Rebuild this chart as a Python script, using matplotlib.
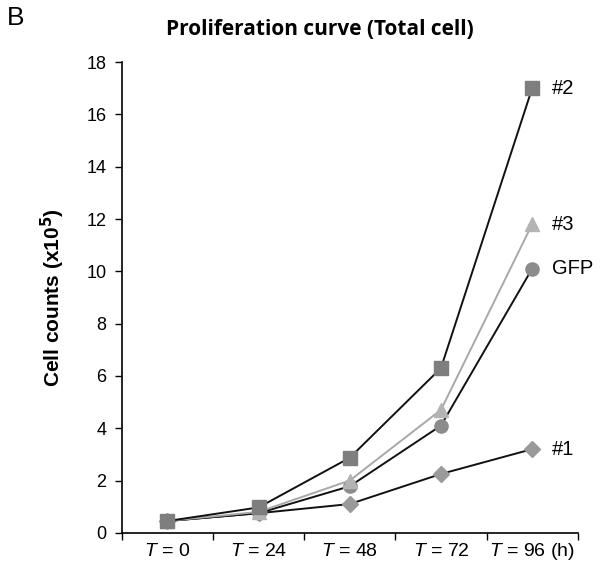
import matplotlib
matplotlib.use('Agg')
from matplotlib import pyplot as plt

times = ['$T$ = 0', '$T$ = 24', '$T$ = 48', '$T$ = 72', '$T$ = 96 (h)']
counts_1 = [0.45, 0.75, 1.10, 2.25, 3.20]
counts_gfp = [0.45, 0.75, 1.78, 4.10, 10.10]
counts_3 = [0.45, 0.80, 2.00, 4.70, 11.80]
counts_2 = [0.45, 0.97, 2.87, 6.30, 17.00]
names = ['#1', 'GFP', '#3', '#2']

plt.rcParams['font.family'] = ['Liberation Sans', 'DejaVu Sans']
plt.rcParams['mathtext.fontset'] = 'custom'
plt.rcParams['mathtext.it'] = 'Liberation Sans:italic'
plt.rcParams['mathtext.rm'] = 'Liberation Sans'

fig = plt.figure(figsize=(6.12, 5.76), dpi=100)
ax = fig.add_axes([0.199, 0.075, 0.745, 0.817])

x = range(len(times))
series = [
    (counts_1, 'D', 8.5, '#9a9a9a', '#111111'),
    (counts_gfp, 'o', 9.5, '#8c8c8c', '#111111'),
    (counts_3, '^', 10, '#b4b4b4', '#a8a8a8'),
    (counts_2, 's', 10.5, '#7e7e7e', '#111111'),
]
for (vals, mk, ms, fc, lc), name in zip(series, names):
    ax.plot(x, vals, color=lc, lw=1.4, marker=mk, markersize=ms,
            markerfacecolor=fc, markeredgecolor=fc, zorder=3)
    ax.annotate(name, (x[-1], vals[-1]), xytext=(14, 0), textcoords='offset points',
                va='center', ha='left', fontsize=14.5, annotation_clip=False)

ax.set_xlim(-0.5, 4.5)
ax.set_ylim(0, 18)
ax.set_yticks(range(0, 19, 2))
ax.tick_params(axis='y', labelsize=13, length=5, width=1, direction='out', pad=6)
ax.set_xticks([i - 0.5 for i in range(6)])
ax.set_xticklabels([])
ax.set_xticks(list(x), minor=True)
ax.set_xticklabels(times, minor=True, fontsize=14, va='baseline')
ax.tick_params(axis='x', which='major', length=5, width=1, direction='out')
ax.tick_params(axis='x', which='minor', length=0, pad=17)
ax.spines['top'].set_visible(False)
ax.spines['right'].set_visible(False)
ax.spines['left'].set_linewidth(1.2)
ax.spines['bottom'].set_linewidth(1.2)

ax.set_ylabel('Cell counts (x10$^{\\mathbf{5}}$)', fontsize=15, fontweight='bold', labelpad=14)

fig.text(0.523, 0.948, 'Proliferation curve (Total cell)', ha='center', va='center',
         fontsize=15, fontweight='bold', family='Open Sans')
fig.text(0.012, 0.968, 'B', ha='left', va='center', fontsize=19)

plt.savefig('out.png', dpi=100, facecolor='white')
plt.close()
